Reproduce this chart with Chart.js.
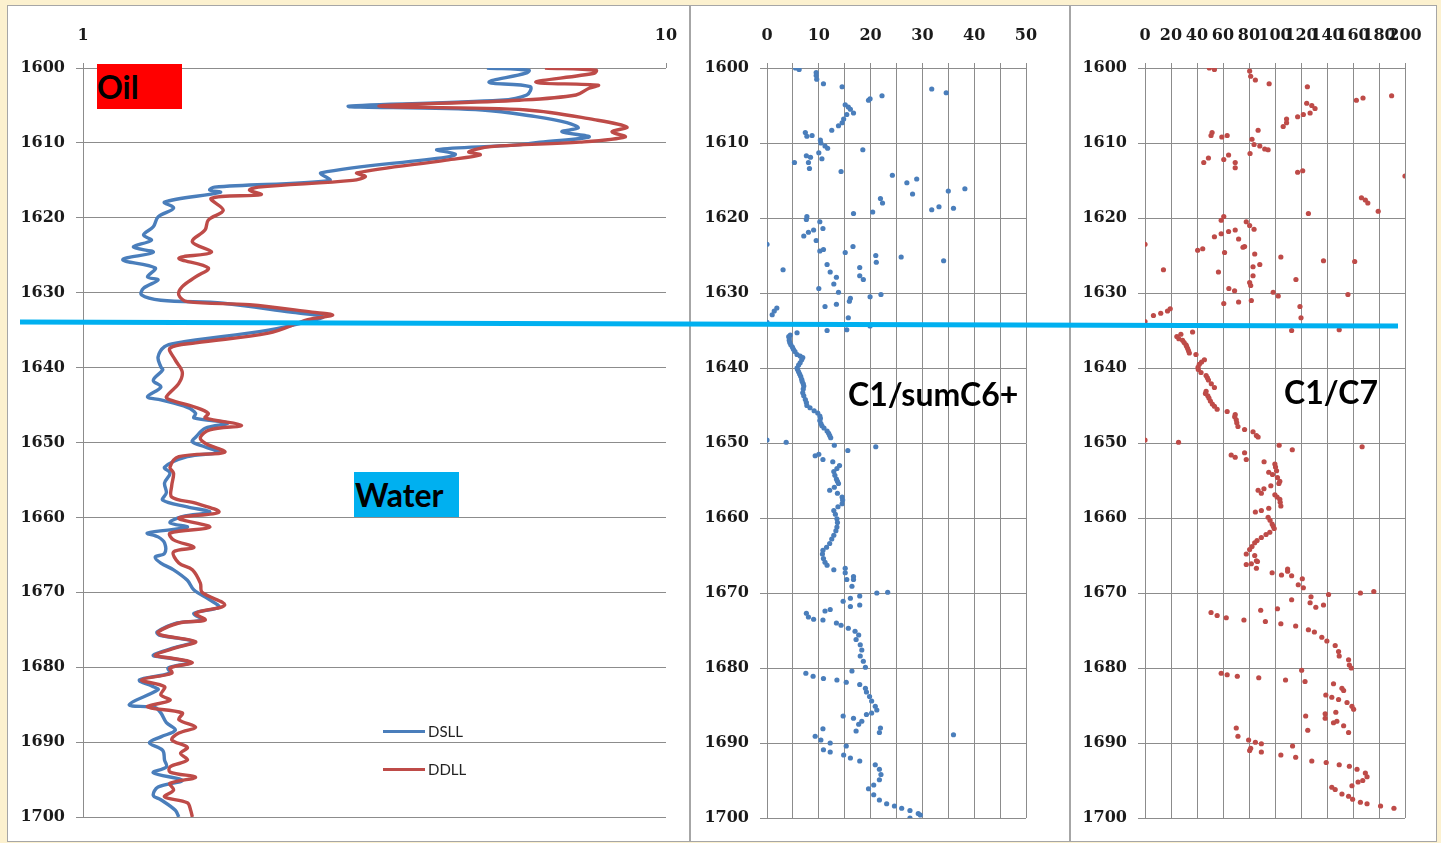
<!DOCTYPE html>
<html>
<head>
<meta charset="utf-8">
<script src="https://cdn.jsdelivr.net/npm/chart.js@4.4.1/dist/chart.umd.min.js"></script>
<style>
  html, body { margin: 0; padding: 0; }
  body { width: 1441px; height: 843px; background: #FCF1CF; position: relative; overflow: hidden; }
  .panel { position: absolute; top: 5px; height: 837px; background: #fff; border: 1px solid #A6A6A6; box-sizing: border-box; }
  canvas { position: absolute; }
  .tag { position: absolute; font-family: Lato, sans-serif; font-weight: bold; color: #000; white-space: nowrap; }
  .legend { position: absolute; left: 383px; top: 712px; font-family: Lato, sans-serif; font-size: 15px; color: #222; }
  .legend .item { display: flex; align-items: center; height: 38px; }
  .legend .swatch { width: 42px; height: 3px; margin-right: 3px; }
</style>
</head>
<body>
<div class="panel" style="left:7px;width:683px"></div>
<div class="panel" style="left:690px;width:380px"></div>
<div class="panel" style="left:1070px;width:367px"></div>

<canvas id="resChart" width="680" height="834" style="left:8px;top:7px"></canvas>
<canvas id="sumChart" width="376" height="834" style="left:692px;top:7px"></canvas>
<canvas id="c7Chart" width="364" height="834" style="left:1072px;top:7px"></canvas>

<div class="tag" style="left:97px;top:64px;width:85px;height:45px;line-height:45px;font-size:32px;background:#FF0000">Oil</div>
<div class="tag" style="left:354px;top:472px;width:105px;height:45px;line-height:45px;font-size:32px;background:#00B0F0;padding-left:1px;box-sizing:border-box">Water</div>
<div class="tag" style="left:848px;top:378px;font-size:32px;line-height:32px">C1/sumC6+</div>
<div class="tag" style="left:1284px;top:376px;font-size:32px;line-height:32px">C1/C7</div>
<div class="legend" id="legend"></div>

<svg width="1441" height="843" style="position:absolute;left:0;top:0;pointer-events:none">
  <line x1="20" y1="322" x2="1398" y2="326" stroke="#00B0F0" stroke-width="5"/>
</svg>

<script>
// depth (m), resistivity (ohm.m)
const dsll = [
  [1600.0,4.93],[1600.3,5.82],[1600.7,5.75],[1601.9,4.97],[1602.5,5.85],[1603.6,5.77],[1604.3,5.2],[1605.1,2.85],[1605.6,4.84],[1606.5,5.98],
  [1607.3,6.76],[1608.0,7.07],[1608.5,6.63],[1609.2,7.38],[1609.9,6.08],[1610.3,5.47],[1610.9,4.05],[1611.5,4.35],[1611.9,4.20],[1614.0,2.56],
  [1615.0,2.65],[1615.9,1.68],[1616.3,1.65],[1616.6,1.72],[1617.9,1.38],[1618.7,1.43],[1619.9,1.345],[1621.2,1.32],[1622.3,1.27],[1623.0,1.31],
  [1623.9,1.22],[1624.6,1.32],[1625.6,1.17],[1626.7,1.33],[1627.9,1.29],[1628.3,1.345],[1629.4,1.27],[1630.3,1.26],[1631.0,1.36],[1631.4,1.74],
  [1632.6,2.27],[1633.2,2.58],[1633.8,2.45],[1635.0,2.08],[1636.7,1.45],[1637.2,1.38],[1638.6,1.345],[1639.9,1.36],[1640.3,1.37],[1641.7,1.32],
  [1642.6,1.36],[1643.9,1.29],[1644.3,1.36],[1645.3,1.51],[1646.1,1.56],[1646.7,1.55],[1647.4,1.77],[1648.1,1.62],[1649.3,1.56],[1649.9,1.54],
  [1650.6,1.62],[1651.3,1.71],[1651.9,1.51],[1653.3,1.38],[1654.1,1.41],[1655.4,1.38],[1656.7,1.39],[1657.7,1.37],[1658.6,1.51],[1659.3,1.65],
  [1659.9,1.48],[1660.7,1.41],[1661.3,1.51],[1662.1,1.29],[1662.6,1.345],[1663.4,1.38],[1664.8,1.38],[1665.3,1.33],[1666.1,1.36],[1667.0,1.43],
  [1668.4,1.51],[1669.7,1.55],[1671.0,1.65],[1672.0,1.71],[1672.8,1.55],[1673.7,1.60],[1674.1,1.45],[1675.3,1.34],[1675.7,1.35],[1676.6,1.55],
  [1677.3,1.45],[1678.4,1.32],[1678.8,1.41],[1679.4,1.53],[1680.1,1.40],[1680.8,1.41],[1681.7,1.25],[1682.6,1.32],[1683.0,1.345],[1685.0,1.20],
  [1685.4,1.33],[1686.1,1.36],[1687.4,1.39],[1688.4,1.44],[1689.3,1.36],[1690.1,1.30],[1691.1,1.37],[1692.4,1.38],[1693.3,1.39],[1694.1,1.32],
  [1695.1,1.48],[1696.0,1.345],[1697.1,1.32],[1697.7,1.36],[1699.1,1.44],[1700.0,1.46]
];
const ddll = [
  [1600.0,6.20],[1600.3,7.59],[1600.7,7.53],[1601.9,5.98],[1602.3,7.65],[1602.7,7.38],[1603.6,7.01],[1604.3,5.6],[1605.1,3.22],[1605.6,5.77],
  [1606.9,7.53],[1607.9,8.57],[1608.5,8.08],[1609.2,8.51],[1609.9,7.12],[1610.5,5.01],[1611.2,4.59],[1611.6,4.80],[1612.3,4.20],[1614.0,2.95],
  [1614.5,3.05],[1615.0,2.90],[1615.9,2.00],[1616.3,1.93],[1616.9,2.02],[1617.4,1.66],[1619.0,1.74],[1620.3,1.64],[1621.6,1.62],[1623.2,1.54],
  [1624.6,1.66],[1625.4,1.46],[1626.7,1.64],[1627.9,1.56],[1629.2,1.48],[1630.3,1.46],[1631.2,1.51],[1631.6,1.93],[1632.6,2.47],[1633.0,2.68],
  [1633.6,2.43],[1635.4,2.08],[1636.7,1.56],[1637.4,1.41],[1639.0,1.44],[1640.6,1.48],[1642.1,1.46],[1643.9,1.39],[1644.3,1.41],[1645.3,1.56],
  [1646.1,1.64],[1646.7,1.62],[1647.7,1.87],[1648.3,1.65],[1649.3,1.59],[1650.1,1.62],[1651.3,1.75],[1651.9,1.46],[1653.3,1.41],[1654.1,1.43],
  [1655.7,1.42],[1657.3,1.42],[1658.1,1.56],[1659.3,1.71],[1660.1,1.46],[1661.3,1.65],[1662.1,1.41],[1663.0,1.43],[1664.0,1.55],[1664.6,1.43],
  [1666.1,1.46],[1667.0,1.54],[1668.8,1.59],[1670.0,1.60],[1671.7,1.75],[1672.8,1.56],[1673.7,1.62],[1674.1,1.46],[1675.3,1.345],[1675.7,1.36],
  [1676.6,1.56],[1677.3,1.46],[1678.4,1.33],[1678.8,1.42],[1679.4,1.54],[1680.1,1.41],[1680.8,1.42],[1681.7,1.26],[1682.6,1.38],[1683.7,1.36],
  [1684.4,1.41],[1685.3,1.29],[1686.1,1.48],[1687.0,1.46],[1688.0,1.56],[1688.8,1.46],[1689.7,1.42],[1690.7,1.51],[1691.5,1.47],[1692.4,1.51],
  [1693.3,1.41],[1694.0,1.41],[1694.7,1.56],[1695.5,1.41],[1696.4,1.43],[1697.3,1.38],[1698.1,1.51],[1699.1,1.53],[1700.0,1.54]
];
// depth (m), C1/sumC6+ ratio
const c1SumC6 = [
  [1600.0,5.5],[1600.2,6.2],[1600.6,9.5],[1601.0,9.5],[1601.5,9.6],[1602.1,10.9],[1602.5,14.5],[1602.8,31.8],[1603.3,34.6],[1603.7,22.2],
  [1604.1,19.9],[1604.3,19.6],[1604.9,15.1],[1605.2,15.7],[1605.5,16.1],[1606.0,16.7],[1606.2,15.4],[1606.8,14.8],[1607.3,14.5],[1607.7,13.8],
  [1608.3,12.5],[1608.6,7.4],[1609.0,8.7],[1609.1,7.7],[1609.6,10.3],[1610.0,10.4],[1610.4,11.2],[1610.7,11.7],[1610.9,18.5],[1611.3,10.0],
  [1611.7,7.6],[1611.9,8.4],[1612.1,10.6],[1612.6,8.0],[1612.6,5.3],[1613.4,8.2],[1613.8,14.3],[1614.3,24.2],[1614.8,28.9],[1615.3,27.0],
  [1616.1,38.2],[1616.4,35.0],[1616.8,28.1],[1617.4,21.9],[1618.0,22.3],[1618.5,33.2],[1618.7,36.0],[1618.9,31.8],[1619.2,20.4],[1619.4,16.7],
  [1619.8,7.7],[1620.2,7.6],[1620.5,10.2],[1621.4,10.8],[1621.6,9.0],[1621.9,8.0],[1622.4,7.1],[1623.0,9.5],[1623.5,0],[1623.8,16.6],
  [1624.2,10.9],[1624.4,10.2],[1624.6,15.1],[1625.0,21.0],[1625.2,25.9],[1625.7,34.1],[1625.9,21.1],[1626.2,11.6],[1626.6,17.9],[1626.9,3.1],
  [1627.2,12.2],[1627.7,17.9],[1627.9,13.4],[1628.2,18.6],[1628.8,12.9],[1629.4,10.0],[1629.9,13.8],[1630.2,22.0],[1630.5,19.9],[1630.7,16.1],
  [1631.1,15.9],[1631.5,13.4],[1631.8,11.2],[1632.0,1.9],[1632.4,1.4],[1632.9,1.0],[1633.3,15.7],[1633.9,0],[1634.4,19.9],[1634.9,15.4],
  [1635.0,11.6],[1635.3,5.8],[1635.6,4.5],[1635.8,4.2],[1636.0,4.3],[1636.3,4.3],[1636.6,4.4],[1636.9,4.6],[1637.2,4.9],[1637.5,5.1],
  [1637.8,5.4],[1638.2,5.8],[1638.4,6.4],[1638.6,6.9],[1638.9,6.7],[1639.3,6.4],[1639.6,6.1],[1640.0,5.8],[1640.2,5.9],[1640.5,6.1],
  [1640.8,6.3],[1641.1,6.5],[1641.5,6.7],[1641.8,6.8],[1642.1,7.0],[1642.4,7.1],[1642.8,7.0],[1643.3,6.9],[1643.7,7.1],[1644.2,7.4],
  [1644.6,7.6],[1645.0,7.7],[1645.3,8.3],[1645.7,9.1],[1646.0,9.8],[1646.4,10.2],[1646.7,10.3],[1647.0,10.2],[1647.4,10.4],[1647.7,10.6],
  [1648.0,11.0],[1648.4,11.6],[1648.7,11.9],[1649.0,12.1],[1649.3,12.3],[1649.6,0],[1649.9,3.7],[1650.3,13.0],[1650.5,21.0],[1651.0,15.6],
  [1651.5,10.0],[1651.7,9.3],[1652.2,10.8],[1652.5,12.7],[1653.0,14.0],[1653.4,13.5],[1653.8,12.9],[1654.3,13.1],[1654.8,13.4],[1655.1,13.6],
  [1655.4,13.8],[1655.9,13.0],[1656.3,12.1],[1656.7,13.6],[1657.2,14.5],[1657.6,14.6],[1658.1,14.5],[1658.5,13.7],[1659.0,12.9],[1659.5,13.2],
  [1660.1,13.5],[1660.6,13.6],[1661.2,13.5],[1661.7,13.3],[1662.3,12.9],[1662.8,12.5],[1663.4,12.1],[1663.9,11.5],[1664.3,10.8],[1664.8,10.7],
  [1665.4,10.9],[1665.9,11.2],[1666.3,11.6],[1666.7,15.1],[1666.9,12.9],[1667.3,15.1],[1667.8,16.7],[1668.2,15.4],[1668.2,16.7],[1669.1,16.4],
  [1669.9,23.3],[1670.0,21.2],[1670.4,17.9],[1670.7,16.1],[1671.1,14.7],[1671.6,17.9],[1671.8,16.1],[1672.2,12.2],[1672.4,11.2],[1672.7,7.6],
  [1673.2,8.0],[1673.5,9.0],[1673.6,10.8],[1674.0,13.4],[1674.3,14.3],[1674.7,15.7],[1675.1,17.0],[1675.6,17.7],[1676.2,17.2],[1676.9,18.0],
  [1677.6,18.3],[1678.4,18.0],[1679.1,18.6],[1679.9,19.0],[1680.4,16.4],[1680.7,7.5],[1681.1,8.9],[1681.4,10.9],[1681.6,13.5],[1681.9,15.3],
  [1682.2,17.9],[1682.7,19.0],[1683.2,19.2],[1683.8,19.8],[1684.4,20.2],[1685.1,20.9],[1685.6,21.2],[1686.0,20.2],[1686.2,19.2],[1686.4,14.7],
  [1686.7,16.7],[1687.1,18.3],[1687.5,17.7],[1688.0,21.9],[1688.1,10.8],[1688.4,17.2],[1688.6,21.7],[1688.9,36.0],[1689.1,9.3],[1689.6,10.4],
  [1690.0,12.2],[1690.4,15.3],[1690.9,10.9],[1691.2,12.2],[1691.6,14.8],[1692.0,16.1],[1692.4,17.9],[1692.9,20.9],[1693.5,21.7],[1694.2,22.0],
  [1694.9,21.7],[1695.6,20.6],[1696.1,19.6],[1696.9,20.6],[1697.6,21.7],[1698.1,23.1],[1698.4,24.6],[1698.7,26.0],[1699.0,27.6],[1699.4,29.2],
  [1699.6,29.6],[1700.0,27.6]
];
// depth (m), C1/C7 ratio
const c1C7 = [
  [1600.0,49.5],[1600.2,53.4],[1600.4,80.5],[1601.1,81.3],[1601.6,84.9],[1602.1,95.5],[1602.5,124.9],[1603.7,189.7],[1604.0,167.7],[1604.3,162.6],
  [1604.7,124.4],[1605.0,128.3],[1605.4,130.8],[1606.0,127.0],[1606.2,121.8],[1606.5,117.4],[1606.8,108.9],[1607.3,108.9],[1607.8,106.3],[1608.3,87.0],
  [1608.6,51.6],[1609.0,50.8],[1609.0,63.2],[1609.2,59.1],[1609.5,82.3],[1610.2,83.9],[1610.4,88.3],[1610.8,92.1],[1610.9,94.7],[1611.4,80.8],
  [1611.6,64.3],[1612.0,48.8],[1612.2,60.6],[1612.6,45.2],[1612.6,69.4],[1613.3,69.4],[1613.7,121.3],[1613.9,117.4],[1614.4,200.0],[1617.3,166.5],
  [1617.6,169.5],[1618.0,171.4],[1619.1,179.4],[1619.4,125.7],[1619.8,60.6],[1620.3,58.6],[1620.5,77.9],[1621.0,80.5],[1621.5,83.9],[1621.6,69.4],
  [1621.8,64.3],[1622.1,58.6],[1622.5,53.4],[1622.8,72.0],[1623.5,0],[1623.8,76.6],[1623.9,75.4],[1624.1,44.4],[1624.3,40.5],[1624.6,61.2],
  [1624.8,84.4],[1625.2,104.5],[1625.7,137.3],[1625.8,161.3],[1626.2,88.3],[1626.5,83.1],[1626.9,14.2],[1627.2,56.5],[1627.7,83.1],[1628.2,116.1],
  [1628.6,80.5],[1629.0,81.3],[1629.4,64.5],[1629.7,68.9],[1629.9,98.6],[1630.2,156.1],[1630.4,102.5],[1631.0,81.8],[1631.2,72.0],[1631.4,60.6],
  [1631.8,119.2],[1632.1,19.4],[1632.4,17.3],[1632.7,12.1],[1633.0,6.5],[1633.3,120.0],[1633.8,0],[1634.9,149.4],[1635.0,112.8],[1635.2,36.6],
  [1635.5,27.6],[1635.8,24.5],[1636.1,26.0],[1636.3,28.9],[1636.6,30.1],[1636.9,31.5],[1637.1,32.0],[1637.4,32.8],[1637.7,33.5],[1638.0,34.1],
  [1638.2,39.2],[1638.9,45.7],[1639.2,43.5],[1639.5,41.8],[1639.9,40.8],[1640.2,41.0],[1640.6,43.1],[1641.0,47.0],[1641.3,48.0],[1641.6,48.8],
  [1642.1,51.0],[1642.6,53.4],[1643.1,47.0],[1643.4,46.5],[1643.7,48.3],[1644.0,49.2],[1644.4,50.3],[1644.8,51.8],[1645.1,53.4],[1645.5,55.5],
  [1645.8,63.2],[1646.2,69.4],[1646.5,69.0],[1646.9,70.2],[1647.3,70.6],[1647.8,71.5],[1648.2,76.6],[1648.5,83.1],[1649.0,85.7],[1649.2,87.0],
  [1649.6,0],[1649.9,25.8],[1650.3,103.2],[1650.5,167.0],[1650.9,113.3],[1651.3,76.6],[1651.6,66.3],[1651.9,69.4],[1652.2,77.9],[1652.5,91.6],
  [1652.8,99.9],[1653.2,100.4],[1653.7,101.2],[1653.9,95.2],[1654.2,98.1],[1654.6,101.9],[1655.1,103.7],[1655.4,103.0],[1655.7,96.8],[1656.1,91.5],
  [1656.3,87.0],[1656.7,89.5],[1656.9,99.9],[1657.2,101.6],[1657.5,103.7],[1657.9,104.0],[1658.4,104.5],[1658.7,95.2],[1659.0,89.5],[1659.2,84.9],
  [1659.9,94.7],[1660.3,96.2],[1660.8,97.8],[1661.1,98.7],[1661.4,99.4],[1661.9,96.0],[1662.2,93.1],[1662.6,89.5],[1663.0,86.2],[1663.3,84.4],
  [1663.8,82.3],[1664.2,80.5],[1664.8,77.9],[1665.0,84.4],[1665.7,85.7],[1665.8,86.5],[1666.1,81.8],[1666.2,77.9],[1666.7,85.7],[1666.8,109.7],
  [1667.1,109.7],[1667.3,97.8],[1667.6,105.0],[1667.7,112.8],[1668.1,121.0],[1668.9,117.9],[1669.3,121.8],[1669.8,176.0],[1670.0,165.7],[1670.2,141.2],
  [1670.5,127.7],[1670.9,112.8],[1671.3,127.0],[1671.6,137.3],[1671.9,131.4],[1672.1,101.9],[1672.3,89.0],[1672.6,50.8],[1673.0,55.5],[1673.3,62.5],
  [1673.6,76.1],[1673.8,92.6],[1674.1,104.5],[1674.4,115.9],[1674.9,125.7],[1675.2,130.3],[1675.9,136.0],[1676.4,139.9],[1677.0,146.3],[1677.8,148.9],
  [1678.4,149.4],[1678.9,156.6],[1679.6,157.2],[1680.0,158.7],[1680.3,120.5],[1680.7,58.6],[1680.9,63.2],[1681.1,71.0],[1681.3,87.5],[1681.6,108.1],
  [1681.8,123.1],[1682.1,145.0],[1682.7,151.5],[1683.0,152.8],[1683.6,139.1],[1683.9,143.7],[1684.2,148.9],[1684.6,155.4],[1685.1,159.2],[1685.5,160.5],
  [1685.9,146.8],[1686.1,138.6],[1686.4,123.6],[1686.7,138.6],[1687.1,147.6],[1687.3,145.0],[1687.7,152.8],[1688.0,70.2],[1688.3,125.2],[1688.6,156.6],
  [1689.1,71.5],[1689.6,79.7],[1689.9,84.9],[1690.1,89.5],[1690.4,113.5],[1690.7,81.3],[1691.0,80.5],[1691.2,89.5],[1691.6,104.5],[1691.9,115.9],
  [1692.4,128.3],[1692.6,139.4],[1692.9,149.4],[1693.1,157.2],[1693.5,163.1],[1694.0,169.5],[1694.5,170.8],[1695.0,167.5],[1695.2,163.9],[1695.7,159.2],
  [1695.9,143.7],[1696.2,146.3],[1696.8,151.5],[1697.1,156.6],[1697.5,159.7],[1697.9,165.7],[1698.1,170.8],[1698.4,181.2],[1698.7,191.5]
];

const depthTicks = [1600, 1610, 1620, 1630, 1640, 1650, 1660, 1670, 1680, 1690, 1700];
const resTickLabels = [1, 10];

const gridColor = '#8C8C8C';
const tickFont = { family: 'DejaVu Serif', size: 16, weight: 'bold' };
const blue = '#4A7EBB';
const red = '#BE4B48';

function toXY(points) {
    return points.map(p => ({ x: p[1], y: p[0] }));
}

function depthAxis(width) {
    return {
        type: 'linear',
        reverse: true,
        min: depthTicks[0],
        max: depthTicks[depthTicks.length - 1],
        afterBuildTicks: (scale) => { scale.ticks = depthTicks.map(v => ({ value: v })); },
        ticks: { color: '#1a1a1a', font: tickFont, padding: 11, callback: (v) => String(v) },
        grid: { color: gridColor, tickLength: 7 },
        border: { color: gridColor },
        afterFit: (scale) => {
            scale.width = width;
            scale.paddingTop = 0;
            scale.paddingBottom = 0;
        }
    };
}

function topAxis(extra) {
    return Object.assign({
        position: 'top',
        afterFit: (scale) => {
            scale.height = 61;
            scale.paddingLeft = 0;
            scale.paddingRight = 0;
        }
    }, extra);
}

const common = {
    responsive: false,
    animation: false,
    events: [],
    devicePixelRatio: 1,
    plugins: { legend: { display: false }, tooltip: { enabled: false } }
};

// Resistivity track
const resChart = new Chart(document.getElementById('resChart'), {
    type: 'scatter',
    data: {
        datasets: [
            { label: 'DSLL', data: toXY(dsll), borderColor: blue, backgroundColor: blue, showLine: true, pointRadius: 0, borderWidth: 3.4, tension: 0.35, order: 2 },
            { label: 'DDLL', data: toXY(ddll), borderColor: red, backgroundColor: red, showLine: true, pointRadius: 0, borderWidth: 3.4, tension: 0.35, order: 1 }
        ]
    },
    options: Object.assign({}, common, {
        layout: { padding: { left: 0, top: 0, right: 22, bottom: 24 } },
        scales: {
            x: topAxis({
                type: 'logarithmic',
                min: 1,
                max: 10,
                ticks: {
                    color: '#1a1a1a', font: tickFont, padding: 18, autoSkip: false, maxRotation: 0,
                    callback: (v) => resTickLabels.includes(v) ? String(v) : ''
                },
                grid: {
                    drawOnChartArea: false, tickLength: 5,
                    color: (ctx) => (ctx.tick && resTickLabels.includes(ctx.tick.value)) ? gridColor : 'rgba(0,0,0,0)'
                },
                border: { display: false }
            }),
            y: depthAxis(75)
        }
    })
});

// C1/sumC6+ track
new Chart(document.getElementById('sumChart'), {
    type: 'scatter',
    data: {
        datasets: [{ label: 'C1/sumC6+', data: toXY(c1SumC6), backgroundColor: blue, borderWidth: 0, pointRadius: 2.6 }]
    },
    options: Object.assign({}, common, {
        layout: { padding: { left: 0, top: 0, right: 42, bottom: 23 } },
        scales: {
            x: topAxis({
                type: 'linear', min: 0, max: 50,
                ticks: { stepSize: 5, color: '#1a1a1a', font: tickFont, padding: 18, autoSkip: false, maxRotation: 0,
                    callback: (v) => v % 10 === 0 ? String(v) : '' },
                grid: { color: gridColor, tickLength: 5 },
                border: { color: gridColor }
            }),
            y: depthAxis(75)
        }
    })
});

// C1/C7 track
new Chart(document.getElementById('c7Chart'), {
    type: 'scatter',
    data: {
        datasets: [{ label: 'C1/C7', data: toXY(c1C7), backgroundColor: red, borderWidth: 0, pointRadius: 2.6 }]
    },
    options: Object.assign({}, common, {
        layout: { padding: { left: 0, top: 0, right: 31, bottom: 23 } },
        scales: {
            x: topAxis({
                type: 'linear', min: 0, max: 200,
                ticks: { stepSize: 20, color: '#1a1a1a', font: tickFont, padding: 18, autoSkip: false, maxRotation: 0,
                    callback: (v) => String(v) },
                grid: { color: gridColor, tickLength: 5 },
                border: { color: gridColor }
            }),
            y: depthAxis(73)
        }
    })
});

// legend for the resistivity track
const legendBox = document.getElementById('legend');
resChart.data.datasets.forEach(ds => {
    const item = document.createElement('div');
    item.className = 'item';
    const sw = document.createElement('span');
    sw.className = 'swatch';
    sw.style.background = ds.borderColor;
    const txt = document.createElement('span');
    txt.textContent = ds.label;
    item.appendChild(sw);
    item.appendChild(txt);
    legendBox.appendChild(item);
});
</script>
</body>
</html>
